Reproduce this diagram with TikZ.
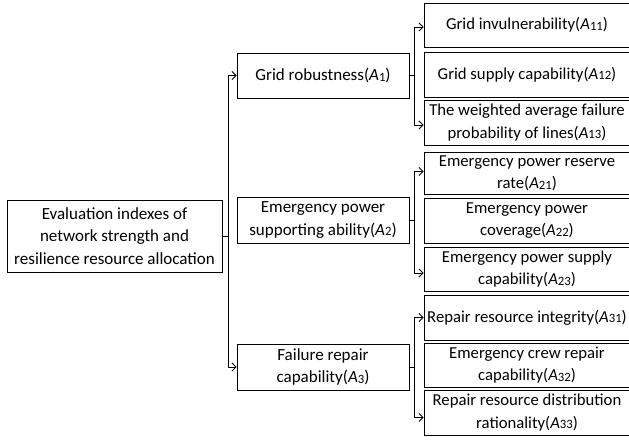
\documentclass[tikz,border=0pt]{standalone}
\usepackage{fontspec}
\setmainfont{Carlito}
\usetikzlibrary{arrows.meta}
\newcommand\ix[2]{\textit{#1}{\fontsize{12.7}{12}\selectfont\raisebox{-0.6pt}{#2}}}
\tikzset{
  box/.style={draw, line width=0.9pt, align=center, inner sep=0pt,
    font=\fontsize{17}{22.5}\selectfont},
  lbox/.style={box, minimum width=206pt, font=\fontsize{16.7}{22.5}\selectfont},
  mbox/.style={box, minimum width=172pt},
  conn/.style={line width=0.8pt},
  arr/.style={conn, -{Straight Barb[length=4pt,width=8pt]}}
}
\begin{document}
\begin{tikzpicture}[x=1pt,y=-1pt]
\clip (0,0) rectangle (629,439);
\fill[white] (0,0) rectangle (629,439);
\node[box, minimum width=215pt, minimum height=72pt] (main) at (114.5,236)
  {Evaluation indexes of\\network strength and\\resilience resource allocation};
\node[mbox, minimum height=45pt] (A1) at (323,75.5) {Grid robustness(\ix{A}{1})};
\node[mbox, minimum height=46pt] (A2) at (323,220) {Emergency power\\supporting ability(\ix{A}{2})};
\node[mbox, minimum height=46pt] (A3) at (323,367) {Failure repair\\capability(\ix{A}{3})};
\node[lbox, minimum height=44pt] (A11) at (527,25) {Grid invulnerability(\ix{A}{11})};
\node[lbox, minimum height=45pt] (A12) at (527,74.5) {Grid supply capability(\ix{A}{12})};
\node[lbox, minimum height=45pt] (A13) at (527,122.5) {The weighted average failure\\probability of lines(\ix{A}{13})};
\node[lbox, minimum height=42pt] (A21) at (527,173.5) {Emergency power reserve\\rate(\ix{A}{21})};
\node[lbox, minimum height=45pt] (A22) at (527,220.5) {Emergency power\\coverage(\ix{A}{22})};
\node[lbox, minimum height=44pt] (A23) at (527,269) {Emergency power supply\\capability(\ix{A}{23})};
\node[lbox, minimum height=45pt] (A31) at (527,317.5) {Repair resource integrity(\ix{A}{31})};
\node[lbox, minimum height=44pt] (A32) at (527,365) {Emergency crew repair\\capability(\ix{A}{32})};
\node[lbox, minimum height=45pt] (A33) at (527,412.5) {Repair resource distribution\\rationality(\ix{A}{33})};
% main trunk
\draw[conn] (main.east) -- ++(6,0) coordinate (t0);
\draw[arr] (t0) |- (A1.west);
\draw[arr] (t0) |- (A3.west);
% A1 branch
\draw[conn] (A1.east) -- ++(5,0) coordinate (b1);
\draw[arr] (b1) |- ([yshift=-2pt]A11.west);
\draw[arr] (b1) |- ([yshift=-2.5pt]A13.west);
% A2 branch
\draw[conn] (A2.east) -- ++(5,0) coordinate (b2);
\draw[arr] (b2) |- ([yshift=2pt]A21.west);
\draw[arr] (b2) |- ([yshift=-4pt]A23.west);
% A3 branch
\draw[conn] (A3.east) -- ++(5,0) coordinate (b3);
\draw[arr] (b3) |- (A31.west);
\draw[arr] (b3) |- ([yshift=-5pt]A33.west);
\end{tikzpicture}
\end{document}
